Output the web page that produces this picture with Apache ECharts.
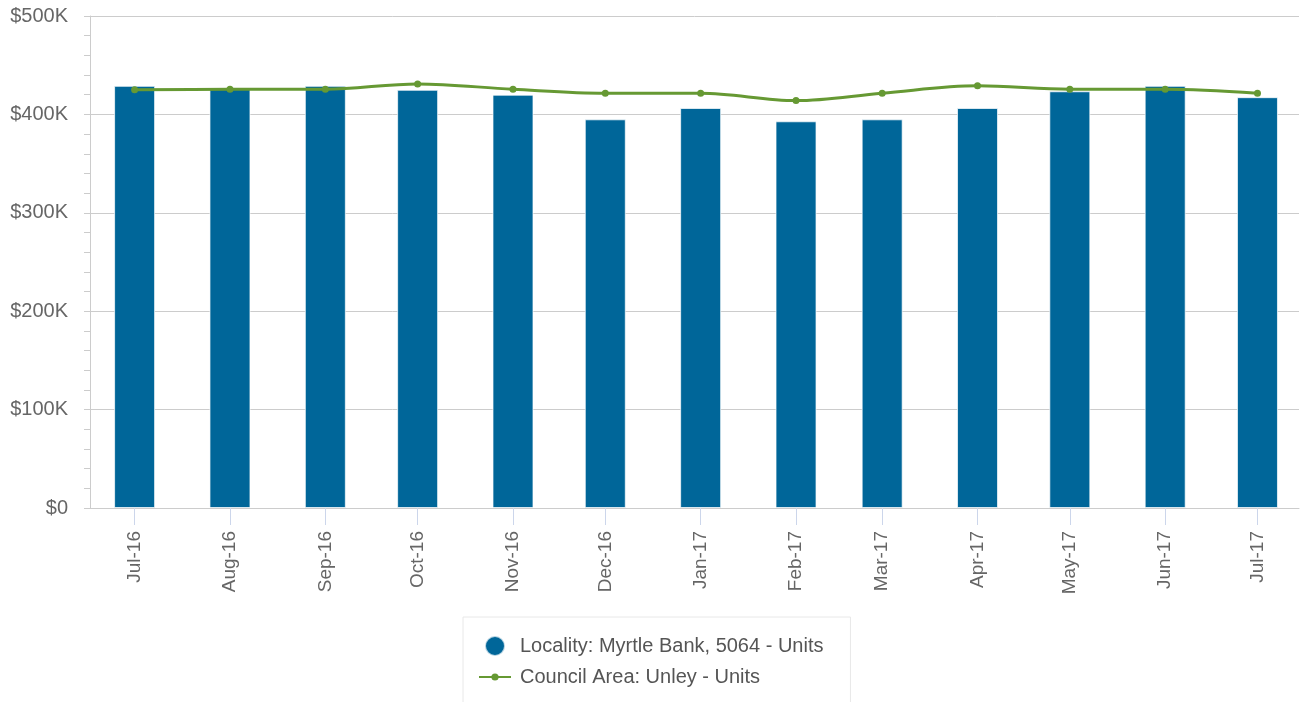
<!DOCTYPE html>
<html>
<head>
<meta charset="utf-8">
<script src="https://cdn.jsdelivr.net/npm/echarts@6/dist/echarts.min.js"></script>
<style>
  html, body { margin: 0; padding: 0; background: #ffffff; }
  #chart { width: 1300px; height: 702px; }
</style>
</head>
<body>
<div id="chart"></div>
<script>
// ---- data ----
const months = ['2016-07-01','2016-08-01','2016-09-01','2016-10-01','2016-11-01','2016-12-01',
                '2017-01-01','2017-02-01','2017-03-01','2017-04-01','2017-05-01','2017-06-01','2017-07-01'];
const tickLabels = ['Jul-16','Aug-16','Sep-16','Oct-16','Nov-16','Dec-16',
                    'Jan-17','Feb-17','Mar-17','Apr-17','May-17','Jun-17','Jul-17'];
const localityUnits = [429000, 426000, 429000, 425000, 420000, 395000, 406500, 393000, 395000, 406500, 423500, 429000, 417500];
const councilUnits  = [425000, 425500, 425500, 431000, 425500, 421500, 421500, 414000, 421500, 429000, 425500, 425500, 421500];
const seriesNames = ['Locality: Myrtle Bank, 5064 - Units', 'Council Area: Unley - Units'];
const yTicks = [0, 100000, 200000, 300000, 400000, 500000];

// ---- build ----
function ts(s) { const p = s.split('-').map(Number); return Date.UTC(p[0], p[1] - 1, p[2]); }
const times = months.map(ts);
const labelByKey = {};
times.forEach((t, i) => { labelByKey[t] = tickLabels[i]; });
const DAY = 86400000;

const gridLeft = 90, gridRight = 1, chartW = 1300;
const axisLen = chartW - gridLeft - gridRight;
const barW = 41;
// visible extent wanted (half a month padding either side)
const wantMin = ts('2016-06-16') + DAY / 2;
const wantMax = ts('2017-07-14') + DAY / 2;
// ECharts widens a time axis holding bars by the bar width; pre-shrink so the final extent is as wanted
const wantRange = wantMax - wantMin;
const shrink = wantRange * (barW / axisLen) / 2;

const chart = echarts.init(document.getElementById('chart'), null, { renderer: 'canvas' });
const font = 'Liberation Sans, Arial, sans-serif';
const legendText = { color: '#555555', fontSize: 20, fontFamily: font, padding: [0, 0, 0, 4] };

const option = {
  useUTC: true,
  animation: false,
  backgroundColor: '#ffffff',
  grid: { left: gridLeft, right: gridRight, top: 16, bottom: 194, containLabel: false },
  xAxis: {
    type: 'time',
    min: wantMin + shrink,
    max: wantMax - shrink,
    minInterval: 28 * DAY,
    maxInterval: 31 * DAY,
    splitNumber: 13,
    axisLine: { show: true, lineStyle: { color: '#cccccc', width: 1 } },
    axisTick: { show: true, length: 17, lineStyle: { color: '#ccd6eb', width: 1 } },
    splitLine: { show: false },
    minorTick: { show: false },
    axisLabel: {
      rotate: 90,
      margin: 23,
      color: '#666666',
      fontSize: 19,
      fontFamily: font,
      showMinLabel: false,
      showMaxLabel: false,
      formatter: function (v) {
        const key = Math.round(v);
        return labelByKey[key] !== undefined ? labelByKey[key] : '';
      }
    }
  },
  yAxis: {
    type: 'value',
    min: yTicks[0],
    max: yTicks[yTicks.length - 1],
    interval: yTicks[1] - yTicks[0],
    axisLine: { show: true, lineStyle: { color: '#cccccc', width: 1 } },
    axisTick: { show: true, length: 6, lineStyle: { color: '#cccccc', width: 1 } },
    minorTick: { show: true, splitNumber: 5, length: 6, lineStyle: { color: '#cccccc', width: 1 } },
    splitLine: { show: true, lineStyle: { color: '#cccccc', width: 1 } },
    axisLabel: {
      margin: 22,
      color: '#666666',
      fontSize: 20,
      fontFamily: font,
      formatter: function (v) { return v === 0 ? '$0' : '$' + (v / 1000) + 'K'; }
    }
  },
  legend: [
    {
      orient: 'vertical',
      left: 463,
      top: 617,
      height: 140,
      padding: [18, 27, 70, 21],
      itemWidth: 32,
      itemHeight: 20,
      borderColor: '#e8e8e8',
      borderWidth: 1,
      backgroundColor: '#ffffff',
      textStyle: legendText,
      data: [{ name: seriesNames[0], icon: 'circle' }],
      z: 4
    },
    {
      orient: 'vertical',
      left: 478,
      top: 667,
      padding: 0,
      itemWidth: 32,
      itemHeight: 9,
      textStyle: legendText,
      data: [{ name: seriesNames[1] }],
      z: 5
    }
  ],
  series: [
    {
      name: seriesNames[0],
      type: 'bar',
      barWidth: barW,
      itemStyle: { color: '#006699', borderColor: 'rgba(255,255,255,0.7)', borderWidth: 1 },
      data: times.map((t, i) => [t, localityUnits[i]]),
      z: 2
    },
    {
      name: seriesNames[1],
      type: 'line',
      smooth: 0.35,
      symbol: 'circle',
      symbolSize: 7,
      showSymbol: true,
      lineStyle: { color: '#669933', width: 3 },
      itemStyle: { color: '#669933' },
      data: times.map((t, i) => [t, councilUnits[i]]),
      z: 3
    }
  ]
};
chart.setOption(option);
</script>
</body>
</html>
